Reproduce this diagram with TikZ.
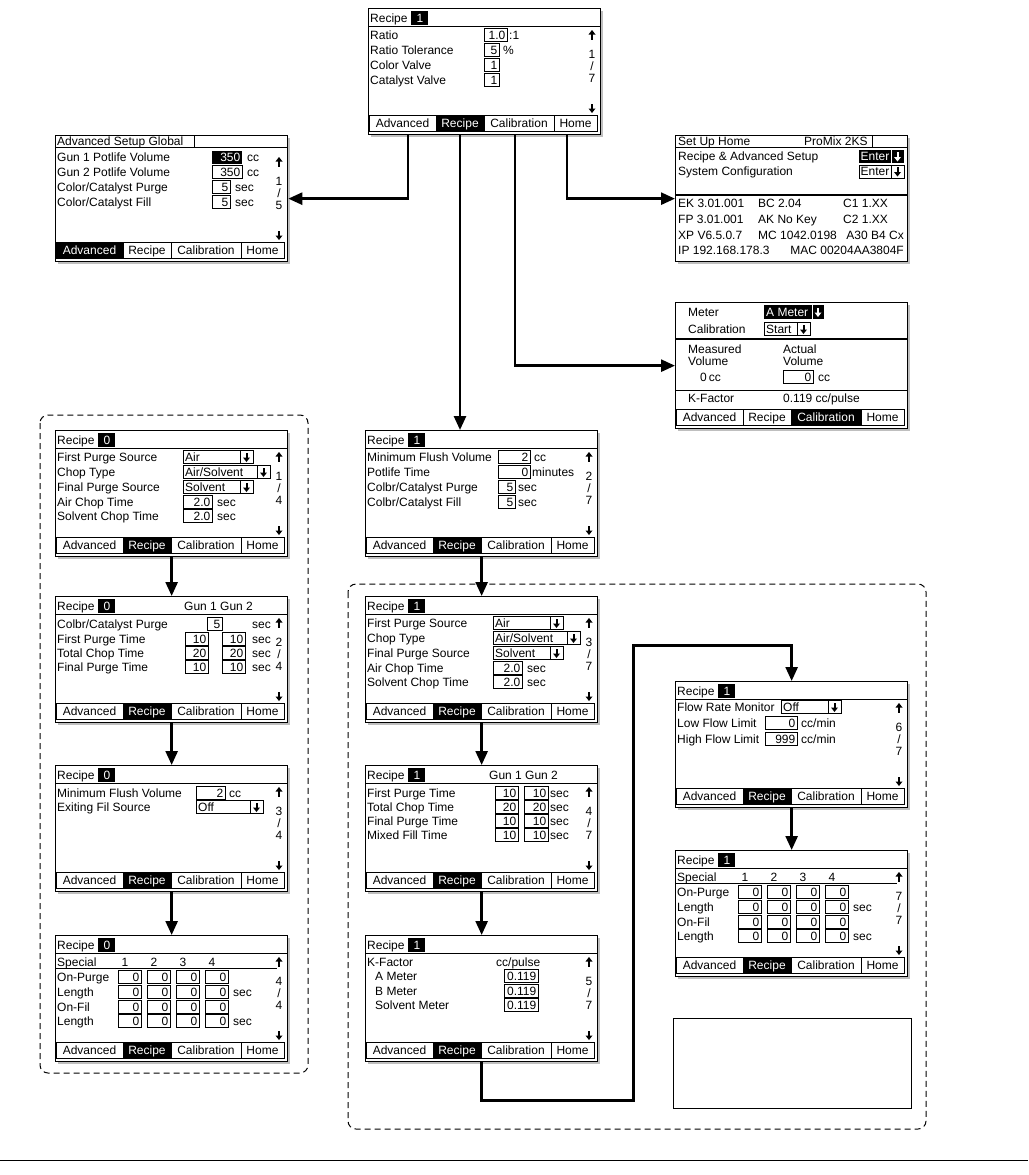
\documentclass[tikz,border=0pt]{standalone}
\usepackage{fontspec}
\setmainfont{Liberation Sans}
\usetikzlibrary{arrows.meta,shadows}

\newcommand\lcd{\fontsize{12}{13}\selectfont}
% small display glyphs, local screen units
\newcommand{\uparr}[3][black]{\fill[#1] (#2-3.5,#3-0.5) -- (#2,#3-5) -- (#2+3.5,#3-0.5) -- cycle; \fill[#1] (#2-1,#3-1) rectangle (#2+1,#3+4.5);}
\newcommand{\dnarr}[3][black]{\fill[#1] (#2-3.5,#3+0.5) -- (#2,#3+5) -- (#2+3.5,#3+0.5) -- cycle; \fill[#1] (#2-1,#3+1) rectangle (#2+1,#3-4.5);}
\newcommand{\valbox}[4]{\draw[fld] (#1,#3-6.5) rectangle (#2,#3+6.5); \node[val] at (#2-1.5,#3) {#4};}
\newcommand{\valboxb}[4]{\fill (#1,#3-6.5) rectangle (#2,#3+6.5); \node[val,text=white] at (#2-1.5,#3) {#4};}
\newcommand{\dropbox}[4]{\draw[fld] (#1,#3-6.5) rectangle (#2,#3+6.5) (#2-13,#3-6.5) -- (#2-13,#3+6.5); \node[lbl] at (#1+2,#3) {#4}; \dnarr{#2-6.5}{#3}}
\newcommand{\rtitle}[1]{\node[lbl] at (2,10) {Recipe}; \fill (43,2.5) rectangle (60,17); \node[lbl,text=white] at (48.5,10) {#1}; \draw[line width=1.2pt] (0,18.5) -- (232,18.5);}
\newcommand{\pager}[2]{\uparr{224}{27} \node[pg] at (224,46) {#1}; \node[pg] at (224,58) {/}; \node[pg] at (224,70) {#2}; \dnarr{224}{100}}
\newcommand{\tabs}[1]{\foreach \a/\b/\txt/\i in {1/68/Advanced/1,68/116/Recipe/2,116/186/Calibration/3,186/229/Home/4}{
    \ifnum\i=#1\relax\def\tabbg{black}\def\tabfg{white}\else\def\tabbg{white}\def\tabfg{black}\fi
    \draw[fld,fill=\tabbg] (\a,107) rectangle (\b,123);
    \node[pg,text=\tabfg] at ({(\a+\b)/2},115) {\txt};}}
\newcommand{\purgescreen}[3]{\rtitle{#1}
  \foreach \y/\txt in {27/First Purge Source,42/Chop Type,57/Final Purge Source,72/Air Chop Time,86/Solvent Chop Time}{\node[lbl] at (2,\y) {\txt};}
  \dropbox{128}{198}{27}{Air} \dropbox{128}{215}{42}{Air/Solvent} \dropbox{128}{198}{57}{Solvent}
  \valbox{128}{157}{72}{2.0} \node[lbl] at (162,72) {sec};
  \valbox{128}{157}{86}{2.0} \node[lbl] at (162,86) {sec};
  \pager{#2}{#3} \tabs{2}}
\newcommand{\specialscreen}[3]{\rtitle{#1}
  \node[lbl] at (2,27) {Special};
  \draw[fld] (0,33) -- (222,33);
  \foreach \x/\n in {70/1,99/2,128/3,157/4}{\node[pg] at (\x,27) {\n};}
  \foreach \y/\txt in {42/On-Purge,57/Length,72/On-Fil,86/Length}{\node[lbl] at (2,\y) {\txt};
    \foreach \x in {63,92,121,150}{\valbox{\x}{\x+23}{\y}{0}}}
  \node[lbl] at (178,57) {sec}; \node[lbl] at (178,86) {sec};
  \pager{#2}{#3} \tabs{2}}

\tikzset{
  screen/.style={draw,line width=1.3pt,fill=white,minimum width=232pt,minimum height=126pt,inner sep=0pt,anchor=north west,
    drop shadow={shadow xshift=2.5pt,shadow yshift=-2.5pt,fill=black!50}},
  lbl/.style={anchor=west,inner sep=0pt,font=\lcd,text height=8.5pt,text depth=0pt},
  val/.style={anchor=east,inner sep=0pt,font=\lcd,text height=8.5pt,text depth=0pt},
  pg/.style={inner sep=0pt,font=\lcd,text height=8.5pt,text depth=0pt},
  fld/.style={line width=0.9pt},
  group/.style={draw,line width=1pt,dash pattern=on 6pt off 4pt,rounded corners=8pt},
  conn/.style={line width=2.6pt,-{Triangle[length=14pt,width=12pt]}}
}

\begin{document}
\begin{tikzpicture}[x=1pt,y=-1pt]
  \useasboundingbox (0,0) rectangle (1028,1175);
  % dashed groups
  \draw[group] (40,415) rectangle (308,1073);
  \draw[group] (348,584) rectangle (926,1129);

  % screens
  \node[screen] (top) at (368,8) {};
  \node[screen] (adv) at (55,135) {};
  \node[screen] (home) at (675,135) {};
  \node[screen] (cal) at (675,302) {};
  \node[screen] (l1) at (55,430) {};
  \node[screen] (l2) at (55,596) {};
  \node[screen] (l3) at (55,765) {};
  \node[screen] (l4) at (55,935) {};
  \node[screen] (c1) at (365,430) {};
  \node[screen] (c2) at (365,596) {};
  \node[screen] (c3) at (365,765) {};
  \node[screen] (c4) at (365,935) {};
  \node[screen] (r1) at (675,681) {};
  \node[screen] (r2) at (675,850) {};
  \node[draw,line width=1.3pt,minimum width=238pt,minimum height=90pt,anchor=north west] (blank) at (673,1018) {};

  % recipe top
  \begin{scope}[shift={(top.north west)}]
    \rtitle{1}
    \foreach \y/\txt in {27/Ratio,42/Ratio Tolerance,57/Color Valve,72/Catalyst Valve}{\node[lbl] at (2,\y) {\txt};}
    \valbox{116}{139}{27}{1.0} \node[lbl] at (141,27) {:1};
    \valbox{116}{131}{42}{5} \node[lbl] at (135,42) {\%};
    \valbox{116}{131}{57}{1}
    \valbox{116}{131}{72}{1}
    \pager{1}{7} \tabs{2}
  \end{scope}

  % advanced setup
  \begin{scope}[shift={(adv.north west)}]
    \node[lbl] at (2,6) {Advanced Setup Global};
    \draw[fld] (139,0) -- (139,12) (0,12) -- (232,12);
    \foreach \y/\txt in {22/Gun 1 Potlife Volume,37/Gun 2 Potlife Volume,52/{Color/Catalyst Purge},67/{Color/Catalyst Fill}}{\node[lbl] at (2,\y) {\txt};}
    \valboxb{157}{187}{22}{350} \node[lbl] at (192,22) {cc};
    \valbox{157}{187}{37}{350} \node[lbl] at (192,37) {cc};
    \valbox{157}{175}{52}{5} \node[lbl] at (180,52) {sec};
    \valbox{157}{175}{67}{5} \node[lbl] at (180,67) {sec};
    \pager{1}{5} \tabs{1}
  \end{scope}

  % set up home
  \begin{scope}[shift={(home.north west)}]
    \node[lbl] at (3,6) {Set Up Home};
    \node[lbl] at (129,6) {ProMix 2KS};
    \draw[fld] (197,0) -- (197,12) (0,12) -- (232,12);
    \node[lbl] at (3,21.5) {Recipe \& Advanced Setup};
    \fill (184,15) rectangle (229,28); \draw[fld,white] (216,15) -- (216,28);
    \node[lbl,text=white] at (185.5,21.5) {Enter}; \dnarr[white]{222.5}{21.5}
    \node[lbl] at (3,36.5) {System Configuration};
    \draw[fld] (184,30) rectangle (229,43) (216,30) -- (216,43);
    \node[lbl] at (185.5,36.5) {Enter}; \dnarr{222.5}{36.5}
    \draw[line width=1.5pt] (0,60) -- (232,60);
    \foreach \y/\a/\b/\c in {68/EK 3.01.001/BC 2.04/C1 1.XX,84/FP 3.01.001/AK No Key/C2 1.XX}{
      \node[lbl] at (3,\y) {\a}; \node[lbl] at (83,\y) {\b}; \node[lbl] at (168,\y) {\c};}
    \node[lbl] at (3,100) {XP V6.5.0.7}; \node[lbl] at (83,100) {MC 1042.0198}; \node[val] at (229,100) {A30 B4 Cx};
    \node[lbl] at (3,115) {IP 192.168.178.3}; \node[val] at (229,115) {MAC 00204AA3804F};
  \end{scope}

  % calibration
  \begin{scope}[shift={(cal.north west)}]
    \node[lbl] at (13,10) {Meter};
    \fill (89,3) rectangle (149,17); \draw[fld,white] (137,3) -- (137,17);
    \node[lbl,text=white] at (91,10) {A Meter}; \dnarr[white]{143}{10}
    \node[lbl] at (13,27) {Calibration};
    \dropbox{89}{135}{27}{Start}
    \draw[line width=1.5pt] (0,37) -- (232,37);
    \node[lbl] at (13,47) {Measured}; \node[lbl] at (13,59) {Volume};
    \node[lbl] at (108,47) {Actual}; \node[lbl] at (108,59) {Volume};
    \node[lbl] at (25,75) {0\,cc};
    \valbox{108}{138}{75}{0} \node[lbl] at (143,75) {cc};
    \draw[fld] (0,88) -- (232,88);
    \node[lbl] at (13,96) {K-Factor}; \node[lbl] at (108,96) {0.119 cc/pulse};
    \tabs{3}
  \end{scope}

  % recipe 0 column
  \begin{scope}[shift={(l1.north west)}]
    \purgescreen{0}{1}{4}
  \end{scope}
  \begin{scope}[shift={(l2.north west)}]
    \rtitle{0} \node[lbl] at (129,10) {Gun 1 Gun 2};
    \foreach \y/\txt in {28/{Colbr/Catalyst Purge},43/First Purge Time,57/Total Chop Time,71/Final Purge Time}{\node[lbl] at (2,\y) {\txt}; \node[lbl] at (197,\y) {sec};}
    \valbox{152}{167}{28}{5}
    \foreach \y/\v in {43/10,57/20,71/10}{\valbox{130}{153}{\y}{\v} \valbox{167}{190}{\y}{\v}}
    \pager{2}{4} \tabs{2}
  \end{scope}
  \begin{scope}[shift={(l3.north west)}]
    \rtitle{0}
    \node[lbl] at (2,28) {Minimum Flush Volume}; \valbox{141}{170}{28}{2} \node[lbl] at (174,28) {cc};
    \node[lbl] at (2,42) {Exiting Fil Source}; \dropbox{141}{208}{42}{Off}
    \pager{3}{4} \tabs{2}
  \end{scope}
  \begin{scope}[shift={(l4.north west)}]
    \specialscreen{0}{4}{4}
  \end{scope}

  % recipe 1 column
  \begin{scope}[shift={(c1.north west)}]
    \rtitle{1}
    \foreach \y/\txt in {27/Minimum Flush Volume,42/Potlife Time,57/{Colbr/Catalyst Purge},72/{Colbr/Catalyst Fill}}{\node[lbl] at (2,\y) {\txt};}
    \valbox{133}{165}{27}{2} \node[lbl] at (169,27) {cc};
    \valbox{133}{165}{42}{0} \node[lbl] at (167,42) {minutes};
    \valbox{133}{150}{57}{5} \node[lbl] at (153,57) {sec};
    \valbox{133}{150}{72}{5} \node[lbl] at (153,72) {sec};
    \pager{2}{7} \tabs{2}
  \end{scope}
  \begin{scope}[shift={(c2.north west)}]
    \purgescreen{1}{3}{7}
  \end{scope}
  \begin{scope}[shift={(c3.north west)}]
    \rtitle{1} \node[lbl] at (124,10) {Gun 1 Gun 2};
    \foreach \y/\txt/\v in {28/First Purge Time/10,42/Total Chop Time/20,56/Final Purge Time/10,70/Mixed Fill Time/10}{
      \node[lbl] at (2,\y) {\txt}; \valbox{130}{153}{\y}{\v} \valbox{159}{183}{\y}{\v} \node[lbl] at (185,\y) {sec};}
    \pager{4}{7} \tabs{2}
  \end{scope}
  \begin{scope}[shift={(c4.north west)}]
    \rtitle{1}
    \node[lbl] at (2,27) {K-Factor}; \node[lbl] at (131,27) {cc/pulse};
    \foreach \y/\txt in {41/A Meter,56/B Meter,70/Solvent Meter}{\node[lbl] at (10,\y) {\txt}; \valbox{139}{173}{\y}{0.119}}
    \pager{5}{7} \tabs{2}
  \end{scope}

  % flow and special
  \begin{scope}[shift={(r1.north west)}]
    \rtitle{1}
    \node[lbl] at (2,26) {Flow Rate Monitor}; \dropbox{106}{166}{26}{Off}
    \node[lbl] at (2,42) {Low Flow Limit}; \valbox{90}{122}{42}{0} \node[lbl] at (126,42) {cc/min};
    \node[lbl] at (2,58) {High Flow Limit}; \valbox{90}{122}{58}{999} \node[lbl] at (126,58) {cc/min};
    \pager{6}{7} \tabs{2}
  \end{scope}
  \begin{scope}[shift={(r2.north west)}]
    \specialscreen{1}{7}{7}
  \end{scope}

  % connectors
  \coordinate (rtab) at ([xshift=92pt]top.south west);
  \draw[conn] ([xshift=40pt]top.south west) |- (adv.east);
  \draw[conn] (rtab) -- (rtab |- c1.north);
  \draw[conn] ([xshift=147pt]top.south west) |- (cal.west);
  \draw[conn] ([xshift=199pt]top.south west) |- (home.west);
  \foreach \a/\b in {l1/l2,l2/l3,l3/l4,c1/c2,c2/c3,c3/c4,r1/r2}{\draw[conn] (\a.south) -- (\b.north);}
  \draw[conn] (c4.south) -- ++(0,38) -| ++(152,-455) -| (r1.north);

  \draw[line width=0.8pt] (0,1160) -- (1028,1160);
\end{tikzpicture}
\end{document}
